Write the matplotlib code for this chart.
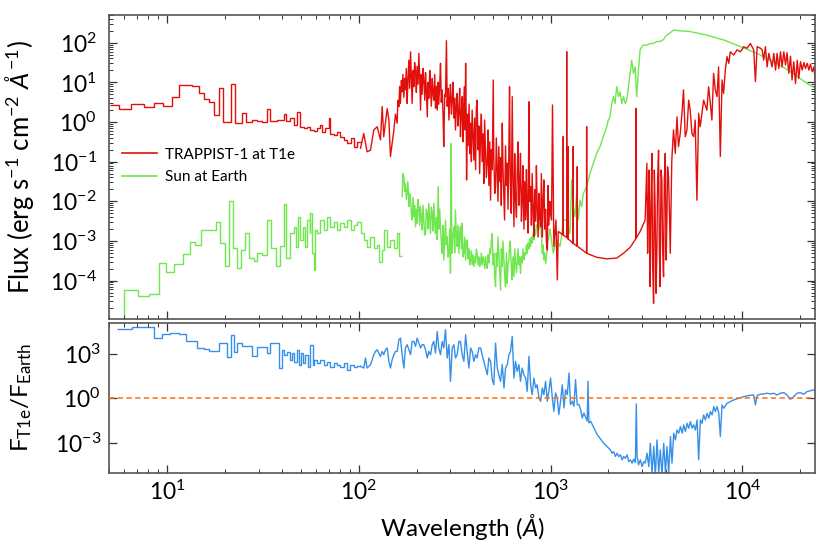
import numpy as np
import matplotlib
matplotlib.use('Agg')
import matplotlib.pyplot as plt
from matplotlib.ticker import LogLocator, FixedLocator, NullLocator, LogFormatterSciNotation, NullFormatter

plt.rcParams['font.family'] = ['Lato', 'DejaVu Sans']
plt.rcParams['mathtext.fontset'] = 'custom'
plt.rcParams['mathtext.rm'] = 'Lato'
plt.rcParams['mathtext.it'] = 'Lato:italic'
plt.rcParams['mathtext.bf'] = 'Lato:bold'
plt.rcParams['axes.unicode_minus'] = False

# Valeurs, en log10 (axes logarithmiques)
# --- TRAPPIST-1 au niveau de T1e : partie basse résolution (marches)
t1_step_edges = [0.701, 0.748, 0.814, 0.878, 0.930, 0.979, 1.024, 1.064, 1.130, 1.167,
                 1.191, 1.219, 1.243, 1.270, 1.292, 1.334, 1.357, 1.391, 1.414, 1.443,
                 1.470, 1.496, 1.522, 1.539, 1.574, 1.609, 1.623, 1.643, 1.661, 1.678,
                 1.696, 1.713, 1.730, 1.748, 1.765, 1.783, 1.800, 1.809, 1.826, 1.843,
                 1.852, 1.870, 1.887, 1.904, 1.922, 1.939, 1.957, 1.974, 1.991, 2.009]
t1_step_flux = [0.43, 0.32, 0.445, 0.38, 0.49, 0.41, 0.62, 0.93, 0.91, 0.74,
                0.57, 0.51, 0.18, 0.87, 0.0, 0.96, -0.03, 0.24, -0.01, 0.06,
                0.02, 0.0, 0.34, 0.03, 0.06, 0.19, 0.03, 0.10, -0.08, 0.25,
                -0.12, -0.16, -0.13, -0.20, -0.22, -0.14, -0.08, -0.24, -0.16, 0.09,
                -0.29, -0.33, -0.24, -0.37, -0.45, -0.54, -0.41, -0.62, -0.50]

# --- TRAPPIST-1 : partie haute résolution
t1_wl = [2.009, 2.026, 2.043, 2.061, 2.078, 2.096, 2.113, 2.122, 2.130, 2.148,
         2.157, 2.165, 2.183, 2.191,
         2.200, 2.204, 2.209, 2.213, 2.217, 2.222, 2.226, 2.230, 2.235, 2.239,
         2.243, 2.248, 2.252, 2.256, 2.261, 2.265, 2.270, 2.274, 2.278, 2.283,
         2.287, 2.291, 2.296, 2.300, 2.304, 2.309, 2.313, 2.318, 2.322, 2.326,
         2.330, 2.335, 2.339, 2.344, 2.348, 2.352, 2.357, 2.361, 2.365, 2.370,
         2.374, 2.378, 2.383, 2.387, 2.391, 2.396, 2.400, 2.404, 2.409, 2.413,
         2.417, 2.422, 2.426, 2.430, 2.435, 2.439, 2.443, 2.448, 2.452, 2.457,
         2.461, 2.465, 2.470, 2.474, 2.478, 2.483, 2.487, 2.491, 2.496, 2.500,
         2.504, 2.509, 2.513, 2.517, 2.522, 2.526, 2.530, 2.535, 2.539, 2.543,
         2.547, 2.551, 2.554, 2.557, 2.560, 2.562, 2.566, 2.570, 2.575, 2.579,
         2.583, 2.587, 2.591, 2.596, 2.600, 2.604, 2.609, 2.613, 2.617, 2.622,
         2.626, 2.630, 2.635, 2.639, 2.643, 2.648, 2.652, 2.656, 2.661, 2.665,
         2.670, 2.674, 2.678, 2.683, 2.687, 2.691, 2.696, 2.701, 2.704, 2.709,
         2.713, 2.717, 2.722, 2.726, 2.730, 2.735, 2.739, 2.743, 2.748, 2.752,
         2.756, 2.760, 2.765, 2.770, 2.774, 2.778, 2.782, 2.786, 2.790, 2.795,
         2.800, 2.804, 2.809, 2.813, 2.817, 2.822, 2.826, 2.830, 2.835, 2.839,
         2.843, 2.848, 2.852, 2.856, 2.861, 2.865, 2.870, 2.874, 2.878, 2.883,
         2.887, 2.891, 2.896, 2.900, 2.904, 2.909, 2.913, 2.917, 2.922, 2.926,
         2.930, 2.935, 2.939, 2.943, 2.948, 2.952, 2.957, 2.961, 2.965, 2.970,
         2.974, 2.978, 2.983, 2.987, 2.991, 2.996, 3.000,
         3.005, 3.010, 3.017, 3.028, 3.035, 3.040,
         3.066, 3.066, 3.066, 3.084, 3.084, 3.084, 3.092, 3.092, 3.092, 3.118,
         3.118, 3.118, 3.139, 3.139, 3.139, 3.153, 3.188, 3.188, 3.188, 3.240,
         3.293, 3.345, 3.380, 3.415, 3.446, 3.446, 3.446, 3.467, 3.493,
         3.502, 3.506, 3.510, 3.514, 3.519, 3.523, 3.528, 3.532, 3.537, 3.541,
         3.545, 3.550, 3.554, 3.558, 3.563, 3.567, 3.571, 3.576, 3.580, 3.584,
         3.589, 3.593, 3.598, 3.602, 3.606, 3.610, 3.615, 3.619, 3.624,
         3.632, 3.641, 3.650, 3.659, 3.667, 3.676, 3.685, 3.693, 3.702, 3.711,
         3.720, 3.728, 3.737, 3.746, 3.754, 3.763, 3.772, 3.780, 3.798, 3.815,
         3.824, 3.833, 3.841, 3.850, 3.859, 3.868, 3.876, 3.885, 3.894, 3.902,
         3.911, 3.920, 3.929, 3.937, 3.955, 3.972, 3.990, 4.007, 4.024, 4.042,
         4.059, 4.068, 4.077, 4.094, 4.103, 4.111, 4.120, 4.129, 4.138, 4.146,
         4.155, 4.164, 4.173, 4.181, 4.190, 4.199, 4.207, 4.216, 4.225, 4.233,
         4.242, 4.251, 4.259, 4.268, 4.277, 4.286, 4.294, 4.303, 4.312, 4.321,
         4.329, 4.338, 4.347, 4.355, 4.364, 4.373, 4.381]
t1_flux = [-0.66, -0.29, -0.75, -0.71, -0.20, -0.12, -0.45, 0.39, -0.37, 0.34,
           0.05, -0.87, -0.20, 0.20,
           -0.03, 0.55, 0.39, 0.90, 0.47, 1.05, 0.76, 1.20, 0.62, 1.10,
           0.81, 1.35, 0.47, 1.00, 1.56, 0.85, 1.77, 1.10, 0.47, 1.30,
           0.89, 1.50, 1.27, 0.75, 1.40, 0.95, 1.73, 1.05, 0.30, 1.20,
           0.70, 1.35, 1.06, 0.55, 1.25, 0.80, 0.13, 1.00, 0.60, 1.30,
           0.89, 0.40, 1.10, 0.70, 0.55, 1.20, 0.35, 0.90, 0.30, 1.00,
           0.45, 0.95, 1.48, 0.50, 0.81, 0.20, -0.62, 0.70, 0.64, 2.05,
           0.40, 0.85, 0.05, 0.60, 0.95, 0.20, 0.55, 1.00, 0.10, 0.60,
           -0.20, 0.40, 0.72, -0.10, 0.30, 0.85, -0.37, 0.25, 0.64, -0.50,
           0.40, 0.89, -0.20, 1.48, 0.10, -1.46, 0.20, -0.60, 0.45, -0.80,
           -0.03, -1.00, 0.30, -0.40, -0.96, 0.10, -1.20, 0.35, 0.55, -0.70,
           -0.10, -1.30, -0.37, 0.20, -1.00, -0.30, -1.55, 0.05, -0.80, -1.40,
           -0.96, -0.20, -1.60, -0.50, -1.97, -0.70, -1.20, 1.06, -0.90, -1.80,
           -1.63, -0.40, -1.30, -2.00, -0.62, -1.50, -0.90, -2.10, -0.03, -1.20,
           -1.80, -2.47, -0.60, -1.60, -1.04, -2.20, -0.90, 0.89, -1.50, -2.30,
           0.64, -1.40, -2.64, -0.80, -1.90, -2.40, -1.29, -0.50, -2.10, -1.60,
           -0.79, -2.50, -1.97, -1.10, -2.70, -1.50, -2.47, -1.20, -2.20, -2.80,
           0.51, -2.00, -1.63, -2.60, -1.30, -2.30, -2.89, -1.70, -2.50, -1.10,
           -2.13, -2.90, -1.80, -2.40, -2.64, -1.30, -2.90, -2.00, -1.46, -2.70,
           -2.20, -3.00, -3.23, -1.60, -2.60, -2.00, -2.30,
           -2.47, 0.43, -3.14, -2.47, -3.98, -2.76,
           -2.85, -0.37, -2.85, -2.91, 1.77, -2.91, -2.95, -0.62, -2.95, -3.06,
           -0.62, -3.06, -3.13, -1.13, -3.13, -3.18, -3.31, -0.12, -3.31, -3.41,
           -3.45, -3.43, -3.31, -3.16, -2.93, 0.34, -2.93, -2.76, -2.47,
           -1.04, -3.31, -2.05, -1.21, -4.15, -2.30, -0.79, -3.56, -4.57, -1.21,
           -2.13, -4.32, -3.31, -1.46, -0.71, -3.14, -4.15, -1.21, -1.46, -3.14,
           -3.90, -1.46, -0.79, -3.48, -2.64, -1.13, -1.38, -2.13, -3.31,
           -0.96, -0.20, -0.79, 0.13, -0.62, -0.29, 0.22, 0.81, -0.37, -0.20,
           0.55, 0.30, -0.29, -0.37, 0.05, -1.97, 0.22, -0.12, 0.55, 0.30,
           0.89, 0.47, 0.05, 1.23, 0.81, 0.64, 1.39, -0.87, 1.06, 0.72,
           1.31, 1.65, 1.48, 1.77, 1.69, 1.82, 1.77, 1.90, 1.86, 1.98,
           1.82, 1.02, 1.90, 1.86, 1.82, 1.56, 1.90, 1.39, 1.73, 1.56,
           1.39, 1.73, 1.31, 1.73, 1.35, 1.77, 1.39, 1.77, 1.44, 1.75,
           1.23, 1.66, 1.06, 1.52, 0.97, 1.56, 1.10, 1.52, 1.31, 1.50,
           1.35, 1.48, 1.31, 1.46, 1.27, 1.39, 0.97]

# --- Soleil au niveau de la Terre : marches
sun_step_edges = [0.701, 0.777, 0.847, 0.904, 0.957, 0.997, 1.038, 1.082, 1.118, 1.144,
                  1.179, 1.257, 1.278, 1.304, 1.323, 1.343, 1.365, 1.386, 1.409, 1.426,
                  1.452, 1.470, 1.496, 1.522, 1.543, 1.570, 1.591, 1.609, 1.621, 1.643,
                  1.661, 1.673, 1.683, 1.696, 1.708, 1.718, 1.730, 1.743, 1.748, 1.757,
                  1.765, 1.774, 1.783, 1.800, 1.817, 1.835, 1.852, 1.870, 1.887, 1.904,
                  1.922, 1.939, 1.957, 1.974, 1.991, 2.009, 2.026, 2.043, 2.061, 2.078,
                  2.096, 2.104, 2.122, 2.130, 2.148, 2.165, 2.183, 2.200, 2.209, 2.226]
sun_step_flux = [-5.5, -4.24, -4.38, -4.34, -3.56, -3.77, -3.59, -3.34, -3.02, -3.10,
                 -2.72, -2.53, -3.06, -3.62, -1.98, -3.18, -3.69, -3.23, -2.81, -3.44,
                 -3.50, -3.31, -3.35, -2.47, -3.18, -3.63, -3.13, -2.07, -3.44,
                 -2.81, -2.64, -3.14, -2.39, -2.97, -2.64, -3.14, -2.47, -2.81, -2.30,
                 -3.31, -3.73, -2.72, -2.81, -2.47, -2.72, -2.39, -2.64, -2.51, -2.72,
                 -2.55, -2.64, -2.47, -2.72, -2.60, -2.51, -2.81, -2.97, -3.14, -2.89,
                 -3.18, -3.10, -3.52, -3.23, -2.72, -3.14, -2.97, -3.18, -2.81, -3.39]

# --- Soleil : haute résolution
sun_wl = [2.226, 2.230, 2.235, 2.239, 2.243, 2.248, 2.252, 2.256, 2.261, 2.265,
          2.270, 2.274, 2.278, 2.283, 2.287, 2.291, 2.296, 2.300, 2.304, 2.309,
          2.313, 2.317, 2.322, 2.326, 2.330, 2.335, 2.339, 2.343, 2.348, 2.352,
          2.357, 2.361, 2.365, 2.370, 2.374, 2.378, 2.383, 2.387, 2.391, 2.396,
          2.400, 2.404, 2.409, 2.414, 2.418, 2.422, 2.426, 2.430, 2.435, 2.439,
          2.443, 2.448, 2.452, 2.456, 2.461, 2.465, 2.470, 2.474, 2.478, 2.482,
          2.485, 2.490, 2.496, 2.500, 2.504, 2.509, 2.513, 2.517, 2.522, 2.526,
          2.530, 2.535, 2.539, 2.543, 2.548, 2.552, 2.557, 2.561, 2.565, 2.570,
          2.574, 2.578, 2.583, 2.587, 2.591, 2.596, 2.600, 2.605, 2.609, 2.613,
          2.617, 2.622, 2.626, 2.630, 2.635, 2.639, 2.643, 2.648, 2.652, 2.657,
          2.661, 2.665, 2.670, 2.674, 2.678, 2.683, 2.687, 2.691, 2.696, 2.700,
          2.704, 2.709, 2.713, 2.717, 2.722, 2.726, 2.730, 2.735, 2.739, 2.743,
          2.748, 2.752, 2.757, 2.761, 2.765, 2.770, 2.774, 2.778, 2.783, 2.787,
          2.791, 2.796, 2.800, 2.804, 2.809, 2.813, 2.817, 2.822, 2.826, 2.830,
          2.835, 2.839, 2.843, 2.848, 2.852, 2.856, 2.861, 2.865, 2.870, 2.874,
          2.878, 2.883, 2.887, 2.891, 2.896, 2.900, 2.904, 2.909, 2.913, 2.917,
          2.922, 2.926, 2.930, 2.935, 2.939, 2.943, 2.948, 2.952, 2.957, 2.961,
          2.965, 2.970, 2.974, 2.978, 2.983, 2.987, 2.991, 2.996, 3.000,
          3.014, 3.031, 3.049,
          3.057, 3.066, 3.084, 3.101, 3.110, 3.118, 3.127, 3.136, 3.145, 3.153,
          3.162, 3.171, 3.188, 3.206, 3.223, 3.240, 3.258, 3.275, 3.293, 3.301,
          3.310, 3.319, 3.328, 3.336, 3.345, 3.354, 3.362, 3.371, 3.380, 3.389,
          3.397, 3.406, 3.415, 3.423, 3.432, 3.441, 3.449, 3.458, 3.467, 3.476,
          3.484, 3.502, 3.519, 3.537, 3.554, 3.571, 3.589, 3.598, 3.606, 3.624,
          3.641, 3.676, 3.728, 3.815, 3.902, 3.955, 3.990, 4.077, 4.164, 4.251,
          4.338, 4.381]
sun_flux = [-1.88, -1.30, -1.38, -1.75, -1.55, -1.95, -1.71, -1.50, -2.13, -1.80,
            -1.97, -2.30, -2.47, -1.90, -2.39, -2.10, -2.64, -2.20, -2.55, -1.95,
            -2.13, -2.60, -2.13, -2.45, -2.72, -2.10, -2.47, -2.85, -2.81, -2.20,
            -2.30, -2.70, -2.05, -2.50, -2.81, -2.15, -2.30, -2.75, -2.05, -2.55,
            -2.81, -2.40, -2.97, -1.63, -2.70, -2.20, -2.64, -3.00, -3.31, -2.60,
            -3.48, -2.90, -2.47, -3.10, -2.89, -3.40, -3.31, -2.70, -3.82, -0.54,
            -3.31, -2.90, -2.64, -3.30, -2.22, -2.90, -3.14, -2.60, -3.31, -2.80,
            -2.64, -3.20, -2.55, -3.40, -3.31, -2.90, -3.48, -3.00, -2.97, -3.45,
            -3.20, -3.60, -3.48, -3.25, -3.60, -3.35, -3.65, -3.40, -3.55, -3.20,
            -3.31, -3.60, -3.40, -3.65, -3.56, -3.30, -3.60, -3.40, -3.48, -3.70,
            -3.40, -3.60, -3.69, -3.35, -3.55, -3.20, -3.31, -3.00, -2.81, -3.60,
            -3.31, -3.90, -4.15, -3.30, -3.65, -2.90, -3.31, -3.80, -4.24, -3.20,
            -3.65, -3.00, -3.48, -3.90, -4.15, -3.30, -4.07, -3.60, -3.48, -3.00,
            -3.14, -3.70, -3.98, -3.40, -3.90, -3.20, -3.48, -3.80, -3.56, -3.20,
            -3.60, -3.40, -3.82, -3.40, -3.55, -3.20, -3.48, -3.30, -3.35, -3.10,
            -3.31, -3.05, -3.20, -2.95, -3.14, -2.90, -3.05, -2.80, -2.97, -2.70,
            -2.85, -2.60, -2.64, -2.50, -2.70, -2.55, -2.55, -2.90, -3.31, -3.10,
            -3.48, -3.30, -3.56, -3.40, -3.23, -2.95, -2.89, -2.70, -2.81,
            -3.31, -2.97, -3.14,
            -2.89, -2.47, -2.47, -2.81, -1.46, -2.13, -2.39, -1.80, -2.47, -1.97,
            -2.13, -1.80, -1.63, -1.29, -1.04, -0.79, -0.62, -0.37, -0.12, 0.05,
            0.13, 0.47, 0.64, 0.47, 0.89, 0.64, 0.76, 0.47, 0.64, 0.47,
            0.55, 0.89, 1.23, 1.56, 1.23, 1.39, 0.64, 1.31, 1.82, 1.90,
            1.94, 1.94, 1.98, 1.98, 2.03, 2.03, 2.08, 2.15, 2.19, 2.25,
            2.32, 2.30, 2.28, 2.19, 2.07, 1.97, 1.90, 1.73, 1.52, 1.27,
            0.97, 0.85]

# --- Rapport F_T1e / F_Earth : marches
ratio_step_edges = [0.739, 0.818, 0.930, 0.974, 1.017, 1.061, 1.101, 1.156, 1.191, 1.221,
                    1.269, 1.313, 1.334, 1.348, 1.365, 1.391, 1.443, 1.469, 1.521, 1.539,
                    1.582, 1.600, 1.612, 1.626, 1.640, 1.652, 1.664, 1.678, 1.690, 1.699,
                    1.709, 1.721, 1.733, 1.747, 1.759, 1.768, 1.782, 1.799, 1.817, 1.834,
                    1.852, 1.869, 1.886, 1.904, 1.921, 1.938, 1.956, 1.973, 1.991, 2.009]
ratio_step_val = [4.63, 4.81, 4.03, 4.30, 4.41, 4.32, 3.85, 3.40, 3.31, 3.18,
                  3.69, 2.80, 4.25, 3.13, 3.74, 3.51, 2.84, 3.47, 3.02, 3.69,
                  2.01, 3.24, 2.91, 3.13, 2.57, 3.02, 2.46, 3.24, 2.24, 3.02,
                  2.35, 2.91, 2.13, 3.58, 2.24, 2.57, 2.35, 2.57, 2.24, 2.46,
                  2.13, 2.35, 2.24, 2.13, 2.35, 1.90, 2.24, 2.13, 2.20]

# --- Rapport : haute résolution
ratio_wl = [2.009, 2.026, 2.035, 2.043, 2.052, 2.061, 2.070, 2.078, 2.087, 2.096,
            2.104, 2.113, 2.122, 2.130, 2.139, 2.148, 2.157, 2.165, 2.174, 2.183,
            2.191, 2.200, 2.209, 2.217, 2.226, 2.235, 2.243, 2.252, 2.261, 2.270,
            2.278, 2.287, 2.296, 2.304, 2.313, 2.322, 2.330, 2.339, 2.348, 2.357,
            2.365, 2.374, 2.383, 2.391, 2.400, 2.409, 2.417, 2.426, 2.435, 2.443,
            2.452, 2.461, 2.470, 2.478, 2.487, 2.496, 2.504, 2.513, 2.522, 2.530,
            2.539, 2.548, 2.557, 2.565, 2.574, 2.583, 2.591, 2.600, 2.609, 2.617,
            2.626, 2.635, 2.643, 2.652, 2.661, 2.670, 2.678, 2.687, 2.696, 2.704,
            2.713, 2.722, 2.730, 2.739, 2.748, 2.757, 2.765, 2.774, 2.783, 2.791,
            2.800, 2.809, 2.817, 2.826, 2.835, 2.843, 2.852, 2.861, 2.870, 2.878,
            2.887, 2.896, 2.904, 2.913, 2.922, 2.930, 2.939, 2.948, 2.957, 2.965,
            2.974, 2.983, 2.991, 3.000, 3.009, 3.017, 3.026, 3.035, 3.043, 3.052,
            3.061, 3.070, 3.078, 3.087, 3.096, 3.104, 3.113, 3.122, 3.130, 3.139,
            3.148, 3.157, 3.165, 3.174, 3.191, 3.195, 3.200, 3.209, 3.226, 3.243,
            3.261, 3.277, 3.294, 3.312, 3.320, 3.329, 3.338, 3.347, 3.355, 3.364,
            3.373, 3.381, 3.390, 3.399, 3.407, 3.416, 3.425, 3.433, 3.442, 3.447,
            3.451, 3.459, 3.468, 3.477, 3.486, 3.494, 3.503, 3.512, 3.520, 3.529,
            3.538, 3.546, 3.555, 3.564, 3.572, 3.581, 3.590, 3.599, 3.607, 3.616,
            3.625, 3.633, 3.642, 3.651, 3.659, 3.668, 3.677, 3.686, 3.694, 3.703,
            3.712, 3.720, 3.729, 3.738, 3.746, 3.755, 3.764, 3.772, 3.781, 3.790,
            3.798, 3.807, 3.816, 3.825, 3.833, 3.842, 3.851, 3.859, 3.868, 3.877,
            3.885, 3.894, 3.903, 3.920, 3.937, 3.955, 3.972, 3.990, 4.007, 4.024,
            4.042, 4.059, 4.068, 4.077, 4.094, 4.111, 4.129, 4.146, 4.163, 4.181,
            4.198, 4.216, 4.233, 4.250, 4.268, 4.285, 4.302, 4.320, 4.337, 4.355,
            4.372, 4.382]
ratio_val = [2.15, 2.03, 2.70, 2.03, 2.15, 2.26, 2.59, 2.93, 3.15, 3.26,
             3.04, 2.81, 3.15, 2.93, 3.26, 3.38, 2.48, 2.03, 2.59, 2.93,
             3.15, 3.15, 3.93, 4.05, 2.93, 2.03, 3.38, 3.60, 3.26, 2.93,
             3.82, 3.82, 3.49, 4.05, 3.71, 3.38, 3.60, 3.60, 3.26, 2.71,
             3.15, 2.93, 3.60, 3.82, 3.04, 4.49, 3.38, 2.93, 3.82, 3.38,
             4.61, 2.71, 3.60, 1.14, 3.38, 3.60, 2.71, 2.93, 3.82, 3.82,
             2.93, 2.48, 4.27, 3.15, 2.03, 3.38, 3.15, 2.48, 2.93, 2.71,
             3.38, 3.38, 2.93, 2.48, 2.03, 1.58, 2.71, 2.48, 1.25, 0.91,
             3.71, 2.03, 1.58, 1.14, 2.26, 0.69, 2.03, 2.26, 2.93, 3.15,
             4.16, 1.36, 2.48, 1.81, 2.26, 1.14, 2.03, 1.58, 1.36, 0.47,
             2.82, 0.91, 0.24, 1.36, 0.69, 0.91, 0.02, -0.20, 0.69, 0.24,
             1.14, -0.20, 0.47, 1.36, 0.02, -0.87, 0.36, 0.02, -1.10, -0.20,
             0.91, -0.65, 0.58, 0.24, 1.70, -0.43, -0.20, -0.54, 1.25, -0.43,
             -0.43, -0.76, -1.33, -0.99, -1.54, 1.14, -1.66, -1.54, -2.00, -2.44,
             -2.75, -3.02, -3.24, -3.47, -3.69, -3.58, -3.91, -3.69, -3.91, -3.80,
             -4.14, -3.91, -4.03, -3.80, -4.25, -4.14, -4.36, -4.09, -4.32, -0.38,
             -3.91, -4.47, -4.14, -4.59, -4.25, -4.36, -3.69, -4.59, -3.02, -5.03,
             -3.24, -5.26, -2.80, -5.03, -3.47, -5.15, -3.02, -5.03, -3.24, -5.03,
             -2.57, -4.36, -2.35, -2.80, -2.13, -2.35, -1.90, -2.35, -1.79, -2.24,
             -1.68, -2.01, -1.57, -2.01, -1.79, -2.13, -1.45, -4.14, -1.45, -1.68,
             -1.12, -1.45, -1.01, -1.34, -0.89, -1.12, -0.56, -0.89, -0.56, -1.01,
             -2.57, -0.45, -0.67, -0.34, -0.22, -0.11, -0.04, 0.04, 0.11, 0.16,
             0.20, 0.22, -0.45, 0.18, 0.27, 0.29, 0.34, 0.29, 0.34, 0.22,
             0.34, 0.38, 0.22, -0.07, 0.11, 0.34, 0.38, 0.27, 0.45, 0.51,
             0.56, 0.51]

red = '#e30f0c'
green = '#70e64f'
blue = '#3690ea'
orange = '#ff6d0a'

fig = plt.figure(figsize=(8.31, 5.45), dpi=100)
ax1 = fig.add_axes([0.1315, 0.4147, 0.8496, 0.5578])
ax2 = fig.add_axes([0.1315, 0.1327, 0.8496, 0.2752])

# Panneau du haut : flux
ax1.stairs(10**np.array(sun_step_flux), 10**np.array(sun_step_edges),
           baseline=None, color=green, lw=1.0)
ax1.plot(10**np.array(sun_wl), 10**np.array(sun_flux), color=green, lw=1.0)
ax1.stairs(10**np.array(t1_step_flux), 10**np.array(t1_step_edges),
           baseline=None, color=red, lw=1.0)
ax1.plot(10**np.array(t1_wl), 10**np.array(t1_flux), color=red, lw=1.0)

h1, = ax1.plot([], [], color=red, lw=1.2, label='TRAPPIST-1 at T1e')
h2, = ax1.plot([], [], color=green, lw=1.2, label='Sun at Earth')
ax1.legend(handles=[h1, h2], loc='upper left', bbox_to_anchor=(0.018, 0.563),
           frameon=False, fontsize=11, handlelength=2.3, handletextpad=0.5,
           labelspacing=0.55, borderpad=0, borderaxespad=0)

# Panneau du bas : rapport
ax2.stairs(10**np.array(ratio_step_val), 10**np.array(ratio_step_edges),
           baseline=None, color=blue, lw=1.0)
ax2.plot(10**np.array(ratio_wl), 10**np.array(ratio_val), color=blue, lw=1.0)
ax2.axhline(1.0, color=orange, lw=1.1, ls=(0, (3.5, 2.2)), zorder=5)

for ax in (ax1, ax2):
    ax.set_xscale('log')
    ax.set_yscale('log')
    ax.set_xlim(5.0, 24000)
    ax.xaxis.set_major_locator(LogLocator(base=10, numticks=10))
    ax.xaxis.set_minor_locator(LogLocator(base=10, subs=np.arange(2, 10), numticks=50))
    ax.tick_params(which='both', direction='in', top=True, right=True,
                   colors='#333333', labelcolor='black', labelsize=16.5)
    ax.tick_params(which='major', length=6, width=0.9)
    ax.tick_params(which='minor', length=3, width=0.7)
    ax.tick_params(axis='x', pad=5)
    for sp in ax.spines.values():
        sp.set_color('#555555')
        sp.set_linewidth(1.2)
ax1.tick_params(axis='y', pad=9)
ax2.tick_params(axis='y', pad=6)

ax1.set_ylim(1.08e-5, 500)
ax1.yaxis.set_major_locator(LogLocator(base=10, numticks=20))
ax1.yaxis.set_minor_locator(LogLocator(base=10, subs=np.arange(2, 10), numticks=100))
ax1.yaxis.set_minor_formatter(NullFormatter())
ax1.tick_params(axis='x', which='both', labelbottom=False)

ax2.set_ylim(1.0e-5, 1.2e5)
ax2.yaxis.set_major_locator(FixedLocator([1e-3, 1e0, 1e3]))
ax2.yaxis.set_major_formatter(LogFormatterSciNotation())
ax2.yaxis.set_minor_locator(NullLocator())
ax2.xaxis.set_minor_formatter(NullFormatter())

ax1.set_ylabel('Flux (erg s$^{-1}$ cm$^{-2}$ $\\mathit{Å}^{-1}$)', fontsize=18.5)
ax2.set_ylabel('F$_{\\mathrm{T1e}}$/F$_{\\mathrm{Earth}}$', fontsize=17.5)
ax2.set_xlabel('Wavelength ($\\mathit{Å}$)', fontsize=17.5)
ax1.yaxis.set_label_coords(-0.104, 0.5)
ax2.yaxis.set_label_coords(-0.106, 0.5)
ax2.xaxis.set_label_coords(0.5, -0.262)

fig.savefig('out.png', dpi=100)
